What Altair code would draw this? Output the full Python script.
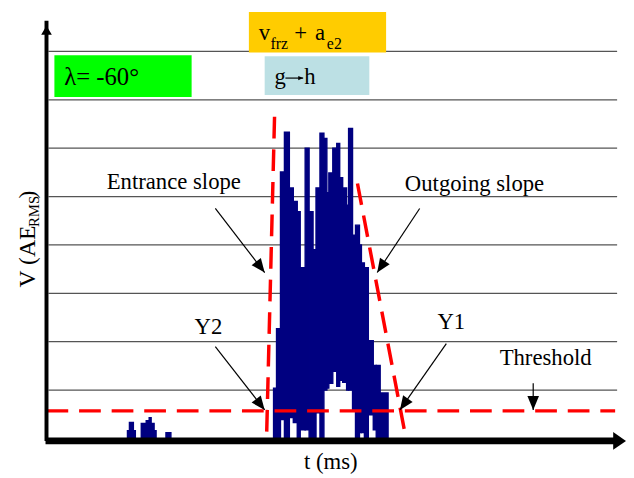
import math
import altair as alt
import pandas as pd

# ---------------- data ----------------
# AE signal slices: left edge / right edge (t, ms), upper and lower level (V)
sig_t0 = [82, 84, 88, 96, 101, 104, 106, 109, 121,
          230, 233, 237, 241, 246, 250, 254, 257, 262, 266, 270, 273, 277, 281, 284, 286,
          290, 294, 297, 300, 304, 306, 310, 313, 317, 319, 322, 326, 331, 334, 338]
sig_t1 = [84, 88, 90, 101, 104, 106, 109, 111, 126,
          233, 237, 241, 246, 250, 254, 257, 262, 266, 270, 273, 277, 281, 284, 286, 290,
          294, 297, 300, 304, 306, 310, 313, 317, 319, 322, 326, 331, 334, 338, 346]
sig_top = [0.16, 0.33, 0.16, 0.31, 0.37, 0.43, 0.31, 0.16, 0.12,
           1.04, 2.27, 5.51, 6.33, 5.18, 4.90, 4.69, 3.53, 6.00, 4.69, 3.90, 5.18, 6.31, 6.20,
           5.08, 5.49, 6.00, 6.10, 5.39, 5.18, 4.82, 6.41, 4.20, 4.41, 4.00, 3.63, 3.53, 2.02,
           1.51, 1.51, 0.94]
sig_bot = [0, 0, 0, 0, 0, 0, 0, 0, 0,
           0, 0, 0.39, 0, 0.43, 0.33, 0, 0.18, 0.18, 0, 0, 0.53, 0, 1.00, 1.04, 1.14, 1.39,
           1.08, 1.20, 1.16, 1.00, 1.00, 0.57, 0, 0.12, 0.12, 0, 0.49, 0.18, 0, 0]

grid_levels = [1, 2, 3, 4, 5, 6, 7, 8]
threshold = 0.57

# dashed slope lines (t, V) start / end
slope_names = ["entrance", "outgoing"]
slope_t0 = [231, 315]
slope_v0 = [6.65, 5.27]
slope_t1 = [223, 363]
slope_v1 = [0.08, 0.12]

# label boxes
box_names = ["lambda", "vfrz", "gh"]
box_t0 = [8, 205, 221]
box_t1 = [147, 344, 327]
box_v0 = [7.06, 7.98, 7.10]
box_v1 = [7.92, 8.816, 7.90]
box_colors = ["#00FF00", "#FFCC00", "#BCE0E4"]

# annotation arrows (start -> tip); the last one is the arrow inside "g→h"
arrow_t0 = [171, 378, 171, 405, 493, 242]
arrow_v0 = [4.755, 4.755, 1.90, 1.96, 1.14, 7.45]
arrow_t1 = [221, 335, 221, 358, 493, 260]
arrow_v1 = [3.43, 3.43, 0.59, 0.59, 0.59, 7.45]
arrow_head = [784, 784, 784, 784, 784, 100]

# texts
txt = ["λ= -60°", "v", "frz", "+", "a", "e2", "g", "h", "Entrance slope", "Outgoing slope",
       "Y2", "Y1", "Threshold"]
txt_t = [18, 215, 227, 251, 272, 284, 231, 261, 61, 363, 150, 396, 459]
txt_v = [7.31, 8.245, 8.06, 8.245, 8.245, 8.06, 7.33, 7.33, 5.16, 5.12, 2.16, 2.27, 1.51]
txt_size = [25, 23, 16, 23, 23, 16, 23, 23, 23, 23, 23, 23, 23]

ytitle = ["V (AE", "RMS", ")"]
ytitle_t = [-12, -8, -12]
ytitle_v = [3.12, 4.37, 4.96]
ytitle_size = [24, 15, 24]

XMAX = 583
YMAX = 433 / 49.0
PX_PER_V = 49.0

xs = alt.Scale(domain=[0, XMAX], nice=False, zero=False)
ys = alt.Scale(domain=[0, YMAX], nice=False, zero=False)
FONT = "Liberation Serif"


def X(f):
    return alt.X(f, type="quantitative", scale=xs, axis=None)


def Y(f):
    return alt.Y(f, type="quantitative", scale=ys, axis=None)


# ---------------- layers ----------------
grid = alt.Chart(pd.DataFrame({"v": grid_levels, "a": 2, "b": 578})).mark_rule(
    color="#555555", strokeWidth=1.3
).encode(x=X("a"), x2="b", y=Y("v"))

boxes = alt.Chart(pd.DataFrame({"n": box_names, "t0": box_t0, "t1": box_t1,
                                "v0": box_v0, "v1": box_v1, "c": box_colors})).mark_rect().encode(
    x=X("t0"), x2="t1", y=Y("v0"), y2="v1", color=alt.Color("c:N", scale=None))

signal = alt.Chart(pd.DataFrame({"t0": sig_t0, "t1": sig_t1, "top": sig_top, "bot": sig_bot})).mark_rect(
    color="#000080", stroke="#000080", strokeWidth=1.4
).encode(x=X("t0"), x2="t1", y=Y("top"), y2="bot")

thr = alt.Chart(pd.DataFrame({"v": [threshold], "a": [0], "b": [576]})).mark_rule(
    color="#FF0000", strokeWidth=3.5, strokeDash=[22, 11]
).encode(x=X("a"), x2="b", y=Y("v"))

slopes = alt.Chart(pd.DataFrame({"n": slope_names, "t0": slope_t0, "v0": slope_v0,
                                 "t1": slope_t1, "v1": slope_v1})).mark_rule(
    color="#FF0000", strokeWidth=3.5, strokeDash=[22, 11]
).encode(x=X("t0"), y=Y("v0"), x2="t1", y2="v1")

arrow_angle = []
for a0, b0, a1, b1 in zip(arrow_t0, arrow_v0, arrow_t1, arrow_v1):
    dx = a1 - a0
    dy = -(b1 - b0) * PX_PER_V
    ang = math.degrees(math.atan2(dx, -dy)) % 360
    arrow_angle.append(ang)

adf = pd.DataFrame({"t0": arrow_t0, "v0": arrow_v0, "t1": arrow_t1, "v1": arrow_v1,
                    "ang": arrow_angle, "hs": arrow_head})
arrow_lines = alt.Chart(adf).mark_rule(color="black", strokeWidth=1.2).encode(
    x=X("t0"), y=Y("v0"), x2="t1", y2="v1")
arrow_heads = alt.Chart(adf).mark_point(
    shape="M0,0L-0.42,1L0.42,1Z", filled=True, color="black", opacity=1, strokeWidth=0
).encode(x=X("t1"), y=Y("v1"), angle=alt.Angle("ang:Q", scale=None),
         size=alt.Size("hs:Q", scale=None))

# axes drawn as thick arrows
yaxis = alt.Chart(pd.DataFrame({"t": [0], "a": [-0.05], "b": [YMAX - 0.2]})).mark_rule(
    color="black", strokeWidth=4).encode(x=X("t"), y=Y("a"), y2="b")
yhead = alt.Chart(pd.DataFrame({"t": [0], "v": [(441 - 23) / 49.0]})).mark_point(
    shape="M0,0L-0.6,1L0.6,1Z", filled=True, color="black", opacity=1, size=324, strokeWidth=0
).encode(x=X("t"), y=Y("v"))
xaxis = alt.Chart(pd.DataFrame({"a": [-1], "b": [576], "v": [-0.05]})).mark_rule(
    color="black", strokeWidth=7).encode(x=X("a"), x2="b", y=Y("v"))
xhead = alt.Chart(pd.DataFrame({"t": [587], "v": [-0.05]})).mark_point(
    shape="M0,0L-0.7,1L0.7,1Z", filled=True, color="black", opacity=1, size=676, strokeWidth=0,
    angle=90
).encode(x=X("t"), y=Y("v"))

texts = alt.Chart(pd.DataFrame({"s": txt, "t": txt_t, "v": txt_v, "fs": txt_size})).mark_text(
    font=FONT, align="left", baseline="alphabetic", color="black"
).encode(x=X("t"), y=Y("v"), text="s:N", size=alt.Size("fs:Q", scale=None))

xtitle = alt.Chart(pd.DataFrame({"s": ["t (ms)"], "t": [288], "v": [-0.633]})).mark_text(
    font=FONT, align="center", baseline="alphabetic", color="black", fontSize=23
).encode(x=X("t"), y=Y("v"), text="s:N")

ytitles = alt.Chart(pd.DataFrame({"s": ytitle, "t": ytitle_t, "v": ytitle_v, "fs": ytitle_size})).mark_text(
    font=FONT, align="left", baseline="alphabetic", color="black", angle=270
).encode(x=X("t"), y=Y("v"), text="s:N", size=alt.Size("fs:Q", scale=None))

chart = alt.layer(
    grid, boxes, signal, thr, slopes, arrow_lines, arrow_heads,
    yaxis, yhead, xaxis, xhead, texts, xtitle, ytitles
).properties(
    width=XMAX, height=433,
    padding={"left": 39, "top": 0, "right": 4, "bottom": 37},
    autosize=alt.AutoSizeParams(type="none"),
    background="white",
).configure_view(stroke=None)

chart.save("out.html", embed_options={"renderer": "svg", "actions": False})
